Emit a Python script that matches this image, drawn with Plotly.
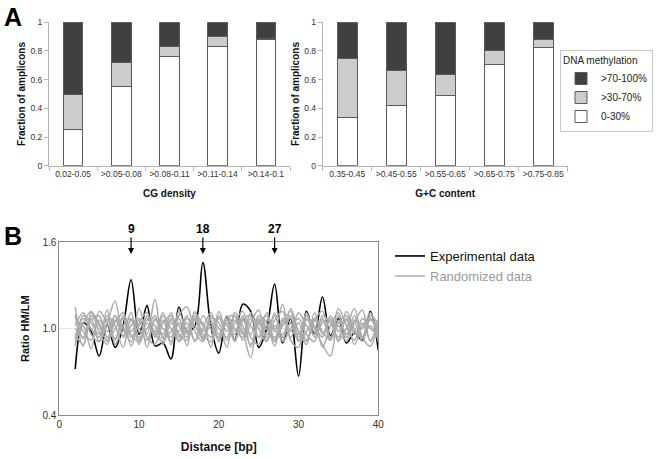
import plotly.graph_objects as go

# ---------------- Panel A data ----------------
cg_cats = ["0.02-0.05", ">0.05-0.08", ">0.08-0.11", ">0.11-0.14", ">0.14-0.1"]
cg_low = [0.25, 0.555, 0.765, 0.83, 0.88]
cg_mid = [0.25, 0.165, 0.065, 0.07, 0.01]
cg_high = [0.50, 0.28, 0.17, 0.10, 0.11]

gc_cats = ["0.35-0.45", ">0.45-0.55", ">0.55-0.65", ">0.65-0.75", ">0.75-0.85"]
gc_low = [0.333, 0.42, 0.49, 0.707, 0.826]
gc_mid = [0.417, 0.245, 0.145, 0.098, 0.055]
gc_high = [0.25, 0.335, 0.365, 0.195, 0.119]

series_names = ["0-30%", ">30-70%", ">70-100%"]
y_ticks_a = [0, 0.2, 0.4, 0.6, 0.8, 1]
y_ticktext_a = ["0", "0.2", "0.4", "0.6", "0.8", "1"]

# ---------------- Panel B data ----------------
distance = list(range(2, 41))
experimental = [
    0.72, 1.04, 0.98, 0.81, 1.03, 0.87, 1.02, 1.34, 0.96, 1.16,
    0.88, 0.90, 0.79, 1.15, 0.98, 1.02, 1.46, 1.02, 0.83, 1.08,
    0.92, 1.17, 1.12, 0.87, 1.00, 1.31, 0.90, 1.07, 0.67, 1.12,
    0.96, 1.22, 0.95, 1.07, 0.90, 0.97, 0.92, 1.12, 0.85,
]
rand1 = [1.15, 0.93, 1.07, 0.91, 1.04, 1.19, 0.95, 1.06, 0.92, 1.09,
         0.98, 1.11, 0.91, 1.04, 0.96, 1.12, 0.93, 1.02, 0.94, 1.07,
         1.09, 0.98, 0.80, 1.06, 0.96, 1.09, 0.94, 1.04, 0.91, 1.07,
         0.98, 1.06, 0.92, 1.09, 0.96, 1.04, 0.91, 1.07, 0.98]
rand2 = [1.10, 0.88, 1.11, 0.98, 0.89, 1.09, 1.00, 0.91, 1.14, 0.96,
         1.20, 0.93, 0.98, 1.07, 0.88, 1.11, 1.02, 0.94, 1.09, 0.92,
         1.04, 1.12, 0.94, 0.89, 1.06, 1.00, 0.92, 1.14, 0.98, 0.89,
         1.11, 0.96, 1.06, 0.91, 1.12, 1.00, 0.94, 1.09, 1.03]
rand3 = [1.05, 1.02, 0.86, 1.12, 1.04, 0.93, 1.07, 0.88, 1.04, 1.11,
         0.94, 1.06, 0.89, 1.09, 1.15, 0.98, 0.91, 1.07, 1.04, 0.87,
         1.09, 0.96, 1.11, 1.00, 0.91, 1.06, 1.12, 0.94, 1.04, 0.92,
         1.07, 0.87, 1.02, 1.11, 0.94, 1.04, 1.13, 0.91, 1.05]
rand4 = [1.02, 1.11, 0.96, 0.91, 1.09, 1.02, 0.87, 1.06, 1.00, 0.92,
         1.07, 0.96, 1.11, 0.94, 1.04, 0.91, 1.09, 1.00, 0.94, 1.06,
         0.92, 1.07, 1.02, 0.94, 1.11, 0.98, 1.17, 0.92, 0.87, 1.09,
         1.00, 0.89, 0.81, 1.06, 0.96, 1.09, 0.94, 1.02, 0.92]
rand5 = [0.97, 0.89, 1.06, 1.09, 0.94, 1.04, 1.11, 0.96, 0.91, 1.06,
         1.02, 0.89, 1.04, 0.98, 1.09, 0.92, 1.00, 1.11, 0.96, 1.04,
         0.91, 1.06, 1.09, 0.94, 1.02, 0.88, 1.07, 1.04, 0.96, 1.11,
         0.94, 1.04, 1.07, 0.92, 1.00, 1.14, 0.94, 0.88, 1.04]
rand6 = [0.93, 1.07, 1.00, 0.94, 1.13, 0.89, 1.02, 1.07, 0.94, 1.00,
         1.09, 0.94, 1.06, 0.91, 1.00, 1.07, 0.96, 0.91, 1.12, 0.98,
         1.06, 0.92, 1.04, 1.13, 0.92, 1.02, 0.96, 1.09, 0.98, 0.91,
         1.06, 1.12, 0.94, 1.02, 0.91, 1.06, 1.00, 1.11, 0.94]
rand7 = [0.90, 1.04, 1.12, 1.02, 0.92, 1.06, 0.98, 1.11, 0.89, 1.04,
         0.96, 1.09, 1.00, 0.92, 1.07, 1.02, 0.94, 1.06, 0.91, 1.09,
         1.00, 0.94, 1.07, 1.04, 0.94, 1.11, 0.91, 1.00, 1.07, 0.96,
         0.91, 1.09, 1.04, 0.94, 1.07, 0.96, 1.04, 0.92, 1.07]
rand8 = [1.08, 0.98, 0.92, 1.06, 0.98, 1.09, 0.94, 1.02, 1.07, 0.87,
         1.06, 1.00, 0.94, 1.12, 0.98, 1.06, 0.92, 1.09, 1.00, 0.94,
         1.11, 1.02, 0.89, 1.04, 1.09, 0.92, 1.06, 0.98, 1.11, 1.02,
         0.96, 1.07, 0.92, 1.14, 1.02, 0.92, 1.07, 1.00, 0.96]
rand9 = [0.88, 1.09, 1.04, 0.96, 1.07, 0.92, 1.09, 0.98, 1.06, 0.94,
         0.89, 1.04, 1.09, 0.96, 0.92, 1.06, 1.04, 0.87, 1.07, 1.02,
         0.96, 1.09, 0.87, 1.07, 1.00, 0.94, 1.04, 1.12, 0.94, 1.06,
         1.02, 0.94, 1.09, 0.98, 1.06, 0.89, 1.02, 1.07, 0.91]
rand10 = [1.00, 0.94, 1.09, 1.04, 0.91, 1.00, 1.07, 0.94, 1.02, 1.07,
          0.96, 0.91, 1.07, 1.02, 0.94, 1.09, 0.98, 1.04, 0.92, 1.07,
          0.98, 1.06, 0.96, 1.09, 1.04, 0.91, 1.02, 1.07, 0.92, 0.98,
          1.07, 0.98, 0.92, 1.04, 1.09, 0.98, 0.94, 1.06, 1.00]
randomized = [rand1, rand2, rand3, rand4, rand5, rand6, rand7, rand8, rand9, rand10]
peak_marks = [9, 18, 27]

# ---------------- styling ----------------
FONT = "Liberation Sans, Arial, sans-serif"
fill_colors = ["#ffffff", "#cccccc", "#404040"]
outline = "#5a5a5a"
W, H = 661, 459


def px_x(p):
    return p / W


def px_y(p):
    return 1 - p / H


fig = go.Figure()

for i, (name, vals) in enumerate(zip(series_names, [cg_low, cg_mid, cg_high])):
    fig.add_trace(go.Bar(x=cg_cats, y=vals, name=name, xaxis="x", yaxis="y",
                         marker=dict(color=fill_colors[i], line=dict(color=outline, width=1)),
                         legend="legend", showlegend=True))
for i, (name, vals) in enumerate(zip(series_names, [gc_low, gc_mid, gc_high])):
    fig.add_trace(go.Bar(x=gc_cats, y=vals, name=name, xaxis="x2", yaxis="y2",
                         marker=dict(color=fill_colors[i], line=dict(color=outline, width=1)),
                         showlegend=False))

fig.add_trace(go.Scatter(x=distance, y=experimental, mode="lines", name="Experimental data",
                         line=dict(color="black", width=1.6, shape="spline", smoothing=1.0),
                         xaxis="x3", yaxis="y3", legend="legend2"))
for k, r in enumerate(randomized):
    fig.add_trace(go.Scatter(x=distance, y=r, mode="lines", name="Randomized data",
                             line=dict(color="#ababab", width=1.5, shape="spline", smoothing=1.0),
                             xaxis="x3", yaxis="y3", legend="legend3", showlegend=(k == 0)))

tickfont_a = dict(family=FONT, size=8.5, color="#333333")
titlefont = dict(family=FONT, size=10, color="#111111", weight="bold")
axis_a_common = dict(showline=True, linecolor="#b5b5b5", linewidth=1, ticks="outside",
                     tickcolor="#b5b5b5", ticklen=4, showgrid=False, zeroline=False,
                     tickfont=tickfont_a, automargin=False)

fig.update_layout(
    width=W, height=H,
    margin=dict(l=0, r=0, t=0, b=0, autoexpand=False),
    paper_bgcolor="white", plot_bgcolor="white",
    barmode="stack", bargap=0.59,
    font=dict(family=FONT, color="#222222"),
    xaxis=dict(domain=[px_x(49), px_x(290)], anchor="y", type="category", tickangle=0,
               tickson="boundaries", title=dict(text="CG density", font=titlefont, standoff=12),
               **axis_a_common),
    yaxis=dict(domain=[px_y(165.7), px_y(22.3)], anchor="x", range=[0, 1],
               tickvals=y_ticks_a, ticktext=y_ticktext_a,
               title=dict(text="Fraction of amplicons", font=titlefont, standoff=2),
               **axis_a_common),
    xaxis2=dict(domain=[px_x(322.7), px_x(567.7)], anchor="y2", type="category", tickangle=0,
                tickson="boundaries", title=dict(text="G+C content", font=titlefont, standoff=12),
                **axis_a_common),
    yaxis2=dict(domain=[px_y(165.7), px_y(22.3)], anchor="x2", range=[0, 1],
                tickvals=y_ticks_a, ticktext=y_ticktext_a,
                title=dict(text="Fraction of amplicons", font=titlefont, standoff=2),
                **axis_a_common),
    xaxis3=dict(domain=[px_x(59.3), px_x(378.3)], anchor="y3", range=[0, 40],
                tickvals=[0, 10, 20, 30, 40], showline=True, mirror=True, linecolor="#8a8a8a",
                linewidth=1, ticks="", showgrid=False, zeroline=False, automargin=False,
                tickfont=dict(family=FONT, size=10, color="#333333"),
                title=dict(text="Distance [bp]", font=dict(family=FONT, size=12, color="#111111",
                                                           weight="bold"), standoff=13)),
    yaxis3=dict(domain=[px_y(415), px_y(242.3)], anchor="x3", range=[0.4, 1.6],
                tickvals=[0.4, 1.0, 1.6], ticktext=["0.4", "1.0", "1.6"],
                showline=True, mirror=True, linecolor="#8a8a8a", linewidth=1, ticks="",
                showgrid=True, gridcolor="#e2e2e2", zeroline=False, automargin=False,
                tickfont=dict(family=FONT, size=10, color="#333333"),
                title=dict(text="Ratio HM/LM", font=dict(family=FONT, size=11, color="#111111",
                                                         weight="bold"), standoff=10)),
    legend=dict(x=px_x(560), y=px_y(50), xanchor="left", yanchor="top",
                bordercolor="#c8c8c8", borderwidth=1, bgcolor="white",
                traceorder="reversed", font=dict(family=FONT, size=10, color="#222222"),
                title=dict(text="DNA methylation", font=dict(family=FONT, size=10, color="#222222")),
                tracegroupgap=0, itemwidth=30),
    legend2=dict(x=px_x(390), y=px_y(241), xanchor="left", yanchor="top",
                 bgcolor="rgba(0,0,0,0)", font=dict(family=FONT, size=13, color="#111111")),
    legend3=dict(x=px_x(390), y=px_y(261), xanchor="left", yanchor="top",
                 bgcolor="rgba(0,0,0,0)", font=dict(family=FONT, size=13, color="#9a9a9a")),
)

annotations = [
    dict(text="A", x=px_x(2), y=px_y(1), xref="paper", yref="paper", xanchor="left",
         yanchor="top", showarrow=False,
         font=dict(family=FONT, size=25, color="black", weight="bold")),
    dict(text="B", x=px_x(2), y=px_y(220), xref="paper", yref="paper", xanchor="left",
         yanchor="top", showarrow=False,
         font=dict(family=FONT, size=25, color="black", weight="bold")),
]
for p in peak_marks:
    annotations.append(dict(text=str(p), x=p, y=1.519, xref="x3", yref="y3", showarrow=True,
                            arrowhead=2, arrowsize=1, arrowwidth=1.2, arrowcolor="black",
                            ax=0, ay=-25,
                            font=dict(family=FONT, size=12, color="black", weight="bold")))
fig.update_layout(annotations=annotations)

fig.write_html("out.html", config={"displayModeBar": False},
               post_script="document.body.style.margin='0';")
